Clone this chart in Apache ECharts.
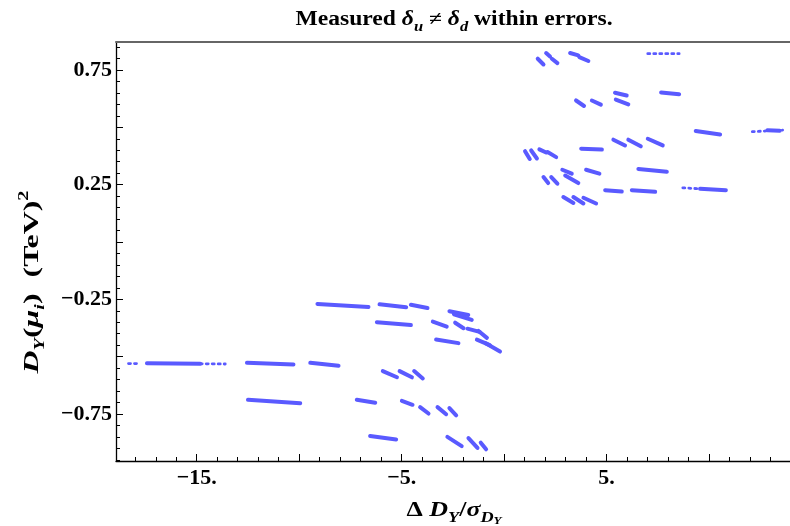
<!DOCTYPE html>
<html><head><meta charset="utf-8">
<script src="https://cdn.jsdelivr.net/npm/echarts@6/dist/echarts.min.js"></script>
<style>html,body{margin:0;padding:0;background:#fff}#c{width:790px;height:526px}</style>
</head><body><div id="c"></div>
<script>
// ---- axis ticks & labels ----
const xMajorTicks = [-15, -10, -5, 0, 5, 10];
const xTickLabels = [-15, -5, 5];
const xMinorTicks = [-18,-17,-16,-15,-14,-13,-12,-11,-10,-9,-8,-7,-6,-5,-4,-3,-2,-1,0,1,2,3,4,5,6,7,8,9,10,11,12,13];
const yMajorTicks = [-0.75, -0.5, -0.25, 0, 0.25, 0.5, 0.75];
const yTickLabels = [-0.75, -0.25, 0.25, 0.75];
const yMinorTicks = [-0.95,-0.9,-0.85,-0.8,-0.75,-0.7,-0.65,-0.6,-0.55,-0.5,-0.45,-0.4,-0.35,-0.3,-0.25,-0.2,-0.15,-0.1,-0.05,0,0.05,0.1,0.15,0.2,0.25,0.3,0.35,0.4,0.45,0.5,0.55,0.6,0.65,0.7,0.75,0.8,0.85];

// ---- data: each streak of dense points as [x1, y1, x2, y2] ----
const lowerStreaks = [
  [-9.11,-0.270,-6.62,-0.283],
  [-6.08,-0.272,-4.78,-0.285],
  [-4.55,-0.274,-3.74,-0.288],
  [-2.67,-0.302,-1.75,-0.318],
  [-2.45,-0.315,-1.58,-0.340],
  [-6.21,-0.350,-4.55,-0.362],
  [-3.48,-0.347,-2.80,-0.369],
  [-2.39,-0.352,-1.98,-0.376],
  [-1.79,-0.378,-1.20,-0.392],
  [-1.25,-0.388,-0.84,-0.418],
  [-3.32,-0.425,-2.23,-0.441],
  [-1.33,-0.426,-0.70,-0.450],
  [-0.90,-0.442,-0.20,-0.478],
  [-17.43,-0.529,-14.83,-0.531],
  [-12.55,-0.527,-10.28,-0.534],
  [-9.46,-0.527,-8.08,-0.540],
  [-5.92,-0.563,-5.23,-0.590],
  [-5.10,-0.563,-4.50,-0.590],
  [-4.39,-0.563,-3.97,-0.595],
  [-12.50,-0.688,-9.95,-0.703],
  [-7.19,-0.688,-6.29,-0.701],
  [-4.99,-0.693,-4.47,-0.710],
  [-4.10,-0.720,-3.69,-0.748],
  [-3.25,-0.720,-2.83,-0.751],
  [-2.67,-0.724,-2.34,-0.756],
  [-6.54,-0.846,-5.27,-0.861],
  [-2.77,-0.850,-2.07,-0.890],
  [-1.74,-0.855,-1.30,-0.898],
  [-1.14,-0.875,-0.88,-0.904]
];
const upperStreaks = [
  [1.64,0.799,1.92,0.774],
  [2.05,0.824,2.24,0.809],
  [2.33,0.799,2.60,0.780],
  [3.22,0.824,3.62,0.814],
  [3.67,0.806,4.11,0.789],
  [3.51,0.617,3.90,0.593],
  [4.28,0.617,4.72,0.599],
  [5.41,0.651,5.98,0.639],
  [5.45,0.621,6.06,0.600],
  [7.66,0.652,8.54,0.644],
  [9.35,0.484,10.54,0.469],
  [12.85,0.487,13.45,0.485],
  [1.02,0.396,1.25,0.362],
  [1.32,0.399,1.60,0.364],
  [1.72,0.404,2.05,0.390],
  [2.12,0.392,2.54,0.370],
  [3.76,0.407,4.77,0.403],
  [5.33,0.446,5.90,0.421],
  [6.06,0.446,6.67,0.417],
  [7.01,0.450,7.74,0.421],
  [1.92,0.283,2.15,0.257],
  [2.30,0.283,2.60,0.254],
  [2.84,0.315,3.30,0.298],
  [2.98,0.290,3.62,0.257],
  [4.00,0.315,4.65,0.298],
  [6.55,0.318,7.94,0.306],
  [4.93,0.226,5.74,0.220],
  [6.23,0.226,7.37,0.219],
  [2.89,0.196,3.38,0.170],
  [3.38,0.196,3.87,0.168],
  [3.87,0.193,4.49,0.168],
  [9.56,0.232,10.82,0.226]
];
// streaks of sparse points
const sparseStreaks = [
  [-18.33,-0.530,-17.80,-0.530],
  [-14.83,-0.531,-13.61,-0.532],
  [7.01,0.821,8.54,0.821],
  [12.11,0.481,13.59,0.488],
  [8.72,0.236,9.56,0.232]
];

const FONT = "'Liberation Serif', 'Times New Roman', serif";
const COLOR = '#5a5aff';
const X_MIN = -18.94, X_MAX = 13.95, Y_MIN = -0.955, Y_MAX = 0.872;

function fmt(v) {
  return (v < 0 ? '\u2212' + Math.abs(v) : String(v));
}
function segRender(width, dash) {
  return function (params, api) {
    const p1 = api.coord([api.value(0), api.value(1)]);
    const p2 = api.coord([api.value(2), api.value(3)]);
    return {
      type: 'line',
      shape: { x1: p1[0], y1: p1[1], x2: p2[0], y2: p2[1] },
      style: { stroke: COLOR, lineWidth: width, lineCap: 'round', lineDash: dash || null }
    };
  };
}
const segSeries = (data, width, dash) => ({
  type: 'custom', xAxisIndex: 0, yAxisIndex: 0, clip: true,
  encode: { x: [0, 2], y: [1, 3] },
  renderItem: segRender(width, dash), data: data, silent: true
});

const chart = echarts.init(document.getElementById('c'), null, { renderer: 'canvas' });
const noSplit = { show: false };
chart.setOption({
  animation: false,
  backgroundColor: '#fff',
  grid: { left: 116, top: 42, right: 0, bottom: 65, containLabel: false },
  xAxis: [
    { type: 'value', min: X_MIN, max: X_MAX, position: 'bottom',
      axisLine: { show: true, onZero: false, lineStyle: { color: '#000', width: 1.3 } },
      axisTick: { show: true, inside: true, length: 7, customValues: xMajorTicks, lineStyle: { color: '#000', width: 1 } },
      axisLabel: { show: true, customValues: xTickLabels, formatter: v => fmt(v) + '.', margin: 6,
        fontFamily: FONT, fontWeight: 'bold', fontSize: 22, color: '#000' },
      splitLine: noSplit },
    { type: 'value', min: X_MIN, max: X_MAX, position: 'bottom',
      axisLine: { show: false, onZero: false },
      axisTick: { show: true, inside: true, length: 4, customValues: xMinorTicks, lineStyle: { color: '#000', width: 1 } },
      axisLabel: { show: false }, splitLine: noSplit },
    { type: 'value', min: X_MIN, max: X_MAX, position: 'top',
      axisLine: { show: true, onZero: false, lineStyle: { color: '#666', width: 2 } },
      axisTick: { show: false }, axisLabel: { show: false }, splitLine: noSplit }
  ],
  yAxis: [
    { type: 'value', min: Y_MIN, max: Y_MAX, position: 'left',
      axisLine: { show: true, onZero: false, lineStyle: { color: '#000', width: 1.3 } },
      axisTick: { show: true, inside: true, length: 7, customValues: yMajorTicks, lineStyle: { color: '#000', width: 1 } },
      axisLabel: { show: true, customValues: yTickLabels, formatter: v => fmt(v), margin: 4,
        fontFamily: FONT, fontWeight: 'bold', fontSize: 22, color: '#000' },
      splitLine: noSplit },
    { type: 'value', min: Y_MIN, max: Y_MAX, position: 'left',
      axisLine: { show: false, onZero: false },
      axisTick: { show: true, inside: true, length: 4, customValues: yMinorTicks, lineStyle: { color: '#000', width: 1 } },
      axisLabel: { show: false }, splitLine: noSplit }
  ],
  series: [
    segSeries(lowerStreaks, 4),
    segSeries(upperStreaks, 4),
    segSeries(sparseStreaks, 2.8, [2, 4])
  ],
  graphic: [
    { type: 'text', x: 454, y: 20, scaleX: 1.18, silent: true,
      style: { text: '{n|Measured }{i|\u03b4}{sub|u}{n| \u2260 }{i|\u03b4}{sub|d}{n| within errors.}',
        align: 'center', verticalAlign: 'middle', fill: '#000',
        rich: {
          n: { fontFamily: FONT, fontWeight: 'bold', fontSize: 20, lineHeight: 28, verticalAlign: 'middle' },
          i: { fontFamily: FONT, fontWeight: 'bold', fontStyle: 'italic', fontSize: 20, lineHeight: 28, verticalAlign: 'middle' },
          sub: { fontFamily: FONT, fontWeight: 'bold', fontStyle: 'italic', fontSize: 14, lineHeight: 28, verticalAlign: 'bottom' }
        } } },
    { type: 'text', x: 454, y: 511, scaleX: 1.3, silent: true,
      style: { text: '{n|\u0394 }{i|D}{sub|Y}{n|/}{i|\u03c3}{sub|D}{ss|Y}',
        align: 'center', verticalAlign: 'middle', fill: '#000',
        rich: {
          n: { fontFamily: FONT, fontWeight: 'bold', fontSize: 20, lineHeight: 30, verticalAlign: 'middle' },
          i: { fontFamily: FONT, fontWeight: 'bold', fontStyle: 'italic', fontSize: 20, lineHeight: 30, verticalAlign: 'middle' },
          sub: { fontFamily: FONT, fontWeight: 'bold', fontStyle: 'italic', fontSize: 14, lineHeight: 30, verticalAlign: 'bottom', padding: [0,0,1,0] },
          ss: { fontFamily: FONT, fontWeight: 'bold', fontStyle: 'italic', fontSize: 10, lineHeight: 30, verticalAlign: 'bottom' }
        } } },
    { type: 'text', x: 32, y: 282, rotation: Math.PI / 2, scaleX: 1.45, scaleY: 1.0, silent: true,
      style: { text: '{i|D}{sub|Y}{n|(}{i|\u03bc}{sub|i}{n|)  (TeV)}{sup|2}',
        align: 'center', verticalAlign: 'middle', fill: '#000',
        rich: {
          n: { fontFamily: FONT, fontWeight: 'bold', fontSize: 22, lineHeight: 30, verticalAlign: 'middle' },
          i: { fontFamily: FONT, fontWeight: 'bold', fontStyle: 'italic', fontSize: 22, lineHeight: 30, verticalAlign: 'middle' },
          sub: { fontFamily: FONT, fontWeight: 'bold', fontStyle: 'italic', fontSize: 14, lineHeight: 30, verticalAlign: 'bottom' },
          sup: { fontFamily: FONT, fontWeight: 'bold', fontSize: 14, lineHeight: 30, verticalAlign: 'top' }
        } } }
  ]
});
</script>
</body></html>
